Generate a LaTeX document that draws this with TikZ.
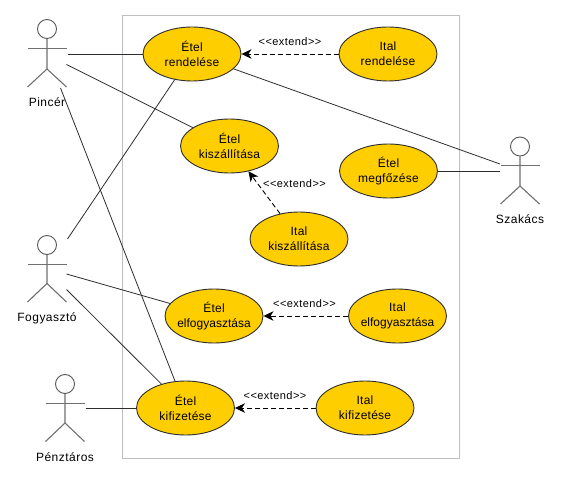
\documentclass[tikz,border=0pt]{standalone}
\usepackage{fontspec}
\setmainfont[LetterSpace=4]{Liberation Sans}
\newfontfamily\ucf[LetterSpace=2]{Liberation Sans}
\newfontfamily\ucn{Liberation Sans}
\usetikzlibrary{arrows.meta,shapes.geometric}
\definecolor{ucfill}{HTML}{FFCE00}
\definecolor{ink}{HTML}{2E2E2E}
\definecolor{limb}{HTML}{707070}
\newcommand{\elfogy}{{\ucn\makebox[69pt]{elfogyasztása}}}
\tikzset{x=1pt,y=-1pt,
  usecase/.style={ellipse,draw=ink,fill=ucfill,line width=0.9pt,minimum width=98pt,minimum height=54pt,inner sep=0pt,text width=69pt,align=center,font=\fontsize{12}{15}\selectfont\ucf,text=black},
  assoc/.style={draw=ink,line width=0.8pt},
  ext/.style={draw=black,line width=0.9pt,dash pattern=on 5pt off 3pt,-{Stealth[length=10pt,width=9.5pt,inset=3pt]}},
  extlabel/.style={font=\fontsize{11}{12}\selectfont,inner sep=0pt},
  actorlabel/.style={font=\fontsize{12}{14}\selectfont,inner sep=0pt},
  head/.style={circle,draw=ink!80,line width=0.9pt,fill=white,minimum size=19pt,inner sep=0pt},
  limbs/.style={draw=limb,line width=1.1pt}}
\begin{document}
\begin{tikzpicture}
\useasboundingbox (0,0) rectangle (562,481);
\fill[white] (0,0) rectangle (562,481);
\node[draw=black!25,line width=0.9pt,minimum width=337pt,minimum height=443pt,inner sep=0pt] (frame) at (291,237) {};
% use cases
\node[usecase] (er) at (192,54) {Étel\\rendelése};
\node[usecase] (ir) at (388,54) {Ital\\rendelése};
\node[usecase] (ek) at (229.5,146) {Étel\\kiszállítása};
\node[usecase] (em) at (388.5,171) {Étel\\megfőzése};
\node[usecase] (ik) at (299,239) {Ital\\kiszállítása};
\node[usecase] (ee) at (214,316) {Étel\\\elfogy};
\node[usecase] (ie) at (397.5,316) {Ital\\\elfogy};
\node[usecase] (ef) at (185.5,408) {Étel\\kifizetése};
\node[usecase] (if) at (365,408) {Ital\\kifizetése};
% actors
\node[head] (ph) at (47,29) {};
\draw[limbs] (ph.south) -- (47,69) coordinate (pc) -- (27.5,87);
\draw[limbs] (pc) -- (66.5,87);
\draw[limbs] (27.5,48.5) -- (66.5,48.5);
\node[actorlabel] (pl) at (47,102) {Pincér};
\node[head] (sh) at (520,146.5) {};
\draw[limbs] (sh.south) -- (520,186) coordinate (sc) -- (500.5,204);
\draw[limbs] (sc) -- (539.5,204);
\draw[limbs] (500.5,165.5) -- (539.5,165.5);
\node[actorlabel] (sl) at (520,219) {Szakács};
\node[head] (fh) at (47,245) {};
\draw[limbs] (fh.south) -- (47,283.5) coordinate (fc) -- (27.5,302);
\draw[limbs] (fc) -- (66.5,302);
\draw[limbs] (27.5,264.5) -- (66.5,264.5);
\node[actorlabel] (fl) at (47,318) {Fogyasztó};
\node[head] (th) at (65,384) {};
\draw[limbs] (th.south) -- (65,423) coordinate (tc) -- (45.5,441.5);
\draw[limbs] (tc) -- (84.5,441.5);
\draw[limbs] (45.5,403.5) -- (84.5,403.5);
\node[actorlabel] (tl) at (65,457) {Pénztáros};
% free ends beside the actors
\coordinate (p1) at (67.5,54);
\coordinate (p2) at (66.5,64.5);
\coordinate (p3) at (60.5,88);
\coordinate (f1) at (67.5,239);
\coordinate (f2) at (66.5,274);
\coordinate (f3) at (66.5,289.5);
\coordinate (t1) at (85.5,408);
\coordinate (s1) at (500,164);
\coordinate (s2) at (500,171);
% associations
\draw[assoc] (p1) -- (er);
\draw[assoc] (p2) -- (ek);
\draw[assoc] (p3) -- (ef);
\draw[assoc] (f1) -- (er);
\draw[assoc] (f2) -- (ee);
\draw[assoc] (f3) -- (ef);
\draw[assoc] (t1) -- (ef);
\draw[assoc] (s1) -- (er);
\draw[assoc] (s2) -- (em);
% extends
\draw[ext] (ir) -- (er);
\draw[ext] (ik) -- (ek);
\draw[ext] (ie) -- (ee);
\draw[ext] (if) -- (ef);
\node[extlabel] (x1) at (290,42) {{<}{<}extend{>}{>}};
\node[extlabel] (x2) at (294.5,183.5) {{<}{<}extend{>}{>}};
\node[extlabel] (x3) at (304.5,304) {{<}{<}extend{>}{>}};
\node[extlabel] (x4) at (275,396) {{<}{<}extend{>}{>}};
\end{tikzpicture}
\end{document}
